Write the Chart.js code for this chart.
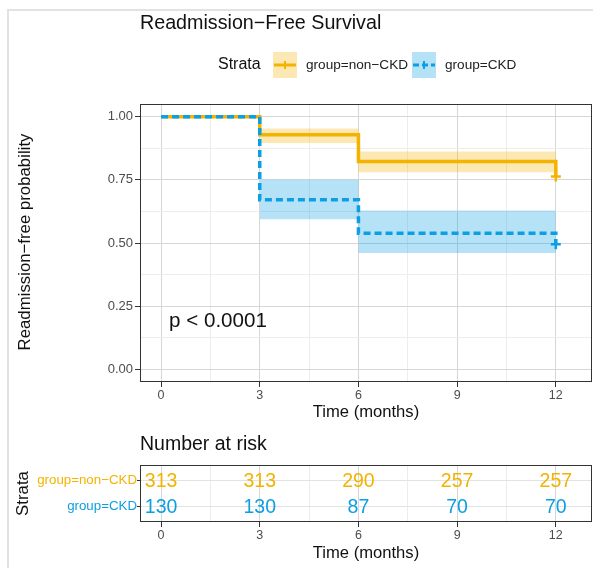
<!DOCTYPE html>
<html>
<head>
<meta charset="utf-8">
<script src="https://cdn.jsdelivr.net/npm/chart.js@4.4.1/dist/chart.umd.min.js"></script>
<style>
  html, body { margin: 0; padding: 0; background: #fff; }
  #page { position: relative; width: 593px; height: 568px; overflow: hidden; }
  #frame { position: absolute; left: 7px; top: 9px; width: 700px; height: 700px;
           border-left: 2px solid #e2e2e2; border-top: 2px solid #e2e2e2; }
  #survChart { position: absolute; left: 0; top: 0; }
  #riskChart { position: absolute; left: 0; top: 430px; }
</style>
</head>
<body>
<div id="page">
  <div id="frame"></div>
  <canvas id="survChart" width="593" height="430"></canvas>
  <canvas id="riskChart" width="593" height="138"></canvas>
</div>
<script>
// survival steps (time in months)
const stepTimes = [0, 3, 6, 12];
const nonCkdSurv = [1.0, 0.928, 0.822, 0.763];
const ckdSurv = [1.0, 0.671, 0.539, 0.495];

// confidence bands
const bandTimes = [3, 6, 12];
const nonCkdUpper = [0.953, 0.862, 0.862];
const nonCkdLower = [0.896, 0.780, 0.780];
const ckdUpper = [0.750, 0.629, 0.629];
const ckdLower = [0.594, 0.460, 0.460];

// censor marks at end of follow-up
const censorTime = 12;
const nonCkdCensor = 0.763;
const ckdCensor = 0.495;

// number at risk table
const riskTimes = [0, 3, 6, 9, 12];
const nonCkdRisk = [313, 313, 290, 257, 257];
const ckdRisk = [130, 130, 87, 70, 70];
const strataLabels = ['group=non\u2212CKD', 'group=CKD'];

const xTicks = [0, 1.5, 3, 4.5, 6, 7.5, 9, 10.5, 12];
const yTicks = [0, 0.125, 0.25, 0.375, 0.5, 0.625, 0.75, 0.875, 1];
const xMin = -0.64, xMax = 13.1;

const ORANGE = '#F3B300';
const BLUE = '#0D9FE3';
const ORANGE_BAND = 'rgba(243,179,0,0.3)';
const BLUE_BAND = 'rgba(13,159,227,0.3)';
const FONT = '"Liberation Sans", Arial, sans-serif';

const toPts = (xs, ys) => xs.map((x, i) => ({ x: x, y: ys[i] }));

function gridOpts() {
  return {
    color: ctx => ctx.index % 2 === 0 ? '#d6d6d6' : '#ededed',
    lineWidth: 1,
    tickLength: 5,
    tickWidth: 1,
    tickColor: ctx => ctx.index % 2 === 0 ? '#333333' : 'rgba(0,0,0,0)'
  };
}

function drawBorder(chart) {
  const a = chart.chartArea;
  const ctx = chart.ctx;
  ctx.save();
  ctx.strokeStyle = '#333333';
  ctx.lineWidth = 1;
  ctx.strokeRect(a.left + 0.5, a.top + 0.5, a.right - a.left - 1, a.bottom - a.top - 1);
  ctx.restore();
}

function text(ctx, str, x, y, size, color, align, rotate) {
  ctx.save();
  ctx.font = size + 'px ' + FONT;
  ctx.fillStyle = color;
  ctx.textAlign = align || 'left';
  ctx.textBaseline = 'middle';
  ctx.translate(x, y);
  if (rotate) ctx.rotate(-Math.PI / 2);
  ctx.fillText(str, 0, 0);
  ctx.restore();
}

function legendKey(ctx, x, y, w, h, band, color, dashed) {
  ctx.save();
  ctx.fillStyle = band;
  ctx.fillRect(x, y, w, h);
  ctx.strokeStyle = color;
  ctx.lineWidth = 3;
  if (dashed) ctx.setLineDash([6, 3]);
  ctx.beginPath();
  ctx.moveTo(x + 1, y + h / 2);
  ctx.lineTo(x + w - 1, y + h / 2);
  ctx.stroke();
  ctx.setLineDash([]);
  ctx.lineWidth = 2;
  ctx.beginPath();
  ctx.moveTo(x + w / 2, y + h / 2 - 4);
  ctx.lineTo(x + w / 2, y + h / 2 + 4);
  ctx.stroke();
  ctx.restore();
}

const survDecor = {
  id: 'survDecor',
  afterDraw(chart) {
    const ctx = chart.ctx;
    const a = chart.chartArea;
    drawBorder(chart);
    text(ctx, 'Readmission\u2212Free Survival', 140, 24, 19.7, '#111', 'left');
    text(ctx, 'Strata', 218, 65, 16, '#111', 'left');
    legendKey(ctx, 273, 52, 24, 26, ORANGE_BAND, ORANGE, false);
    text(ctx, strataLabels[0], 306, 65, 13.6, '#222', 'left');
    legendKey(ctx, 412, 52, 24, 26, BLUE_BAND, BLUE, true);
    text(ctx, strataLabels[1], 445, 65, 13.6, '#222', 'left');
    text(ctx, 'p < 0.0001', 169, 321, 20.6, '#111', 'left');
    text(ctx, 'Readmission\u2212free probability', 25, (a.top + a.bottom) / 2 - 1, 16.8, '#111', 'center', true);
    text(ctx, 'Time (months)', (a.left + a.right) / 2, 412, 16.6, '#111', 'center');
  }
};

const survChart = new Chart(document.getElementById('survChart'), {
  type: 'line',
  data: {
    datasets: [
      { data: toPts(stepTimes, ckdSurv), borderColor: BLUE, borderWidth: 3.5, borderDash: [7, 4],
        stepped: true, pointRadius: 0, fill: false },
      { data: toPts(stepTimes, nonCkdSurv), borderColor: ORANGE, borderWidth: 3.5,
        stepped: true, pointRadius: 0, fill: false },
      { data: [{ x: censorTime, y: ckdCensor }], showLine: false, pointStyle: 'cross',
        pointRadius: 5, borderColor: BLUE, borderWidth: 2.5 },
      { data: [{ x: censorTime, y: nonCkdCensor }], showLine: false, pointStyle: 'cross',
        pointRadius: 5, borderColor: ORANGE, borderWidth: 2.5 },
      { data: toPts(bandTimes, ckdUpper), borderWidth: 0, stepped: true, pointRadius: 0, fill: false },
      { data: toPts(bandTimes, ckdLower), borderWidth: 0, stepped: true, pointRadius: 0,
        fill: '-1', backgroundColor: BLUE_BAND },
      { data: toPts(bandTimes, nonCkdUpper), borderWidth: 0, stepped: true, pointRadius: 0, fill: false },
      { data: toPts(bandTimes, nonCkdLower), borderWidth: 0, stepped: true, pointRadius: 0,
        fill: '-1', backgroundColor: ORANGE_BAND }
    ]
  },
  options: {
    responsive: false,
    animation: false,
    layout: { autoPadding: false, padding: { top: 104, right: 1, left: 0, bottom: 0 } },
    plugins: { legend: { display: false }, tooltip: { enabled: false } },
    scales: {
      x: {
        type: 'linear', min: xMin, max: xMax,
        afterBuildTicks: s => { s.ticks = xTicks.map(v => ({ value: v })); },
        afterFit: s => { s.height = 48; },
        ticks: { autoSkip: false, maxRotation: 0, padding: 1, color: '#4d4d4d',
                 font: { family: FONT, size: 12.5 },
                 callback: (v, i) => i % 2 === 0 ? String(v) : '' },
        grid: gridOpts(),
        border: { display: false }
      },
      y: {
        type: 'linear', min: -0.05, max: 1.05,
        afterBuildTicks: s => { s.ticks = yTicks.map(v => ({ value: v })); },
        afterFit: s => { s.width = 140; },
        ticks: { autoSkip: false, padding: 2, color: '#4d4d4d',
                 font: { family: FONT, size: 13 },
                 callback: (v, i) => i % 2 === 0 ? Number(v).toFixed(2) : '' },
        grid: gridOpts(),
        border: { display: false }
      }
    }
  },
  plugins: [survDecor]
});

const riskDecor = {
  id: 'riskDecor',
  afterDatasetsDraw(chart) {
    const ctx = chart.ctx;
    const colors = [ORANGE, BLUE];
    const tables = [nonCkdRisk, ckdRisk];
    chart.data.datasets.forEach((ds, di) => {
      chart.getDatasetMeta(di).data.forEach((pt, i) => {
        text(ctx, String(tables[di][i]), pt.x, pt.y + 1.5, 19.5, colors[di], 'center');
      });
    });
  },
  afterDraw(chart) {
    const ctx = chart.ctx;
    const a = chart.chartArea;
    drawBorder(chart);
    text(ctx, 'Number at risk', 140, 15, 19.5, '#111', 'left');
    text(ctx, 'Strata', 23, (a.top + a.bottom) / 2, 16.8, '#111', 'center', true);
    text(ctx, 'Time (months)', (a.left + a.right) / 2, 123, 16.6, '#111', 'center');
  }
};

const riskChart = new Chart(document.getElementById('riskChart'), {
  type: 'scatter',
  data: {
    datasets: [
      { data: riskTimes.map(t => ({ x: t, y: 1 })), pointRadius: 0 },
      { data: riskTimes.map(t => ({ x: t, y: 2 })), pointRadius: 0 }
    ]
  },
  options: {
    responsive: false,
    animation: false,
    layout: { autoPadding: false, padding: { top: 35, right: 1, left: 0, bottom: 0 } },
    plugins: { legend: { display: false }, tooltip: { enabled: false } },
    scales: {
      x: {
        type: 'linear', min: xMin, max: xMax,
        afterBuildTicks: s => { s.ticks = xTicks.map(v => ({ value: v })); },
        afterFit: s => { s.height = 46; },
        ticks: { autoSkip: false, maxRotation: 0, padding: 1, color: '#4d4d4d',
                 font: { family: FONT, size: 12.5 },
                 callback: (v, i) => i % 2 === 0 ? String(v) : '' },
        grid: gridOpts(),
        border: { display: false }
      },
      y: {
        type: 'linear', min: 0.4, max: 2.6, reverse: true,
        afterBuildTicks: s => { s.ticks = [1, 2].map(v => ({ value: v })); },
        afterFit: s => { s.width = 140; },
        ticks: { autoSkip: false, padding: 0,
                 color: ctx => ctx.index === 0 ? ORANGE : BLUE,
                 font: { family: FONT, size: 13.3 },
                 callback: (v, i) => strataLabels[i] },
        grid: { color: '#e3e3e3', tickLength: 3, tickColor: '#333333' },
        border: { display: false }
      }
    }
  },
  plugins: [riskDecor]
});
</script>
</body>
</html>
